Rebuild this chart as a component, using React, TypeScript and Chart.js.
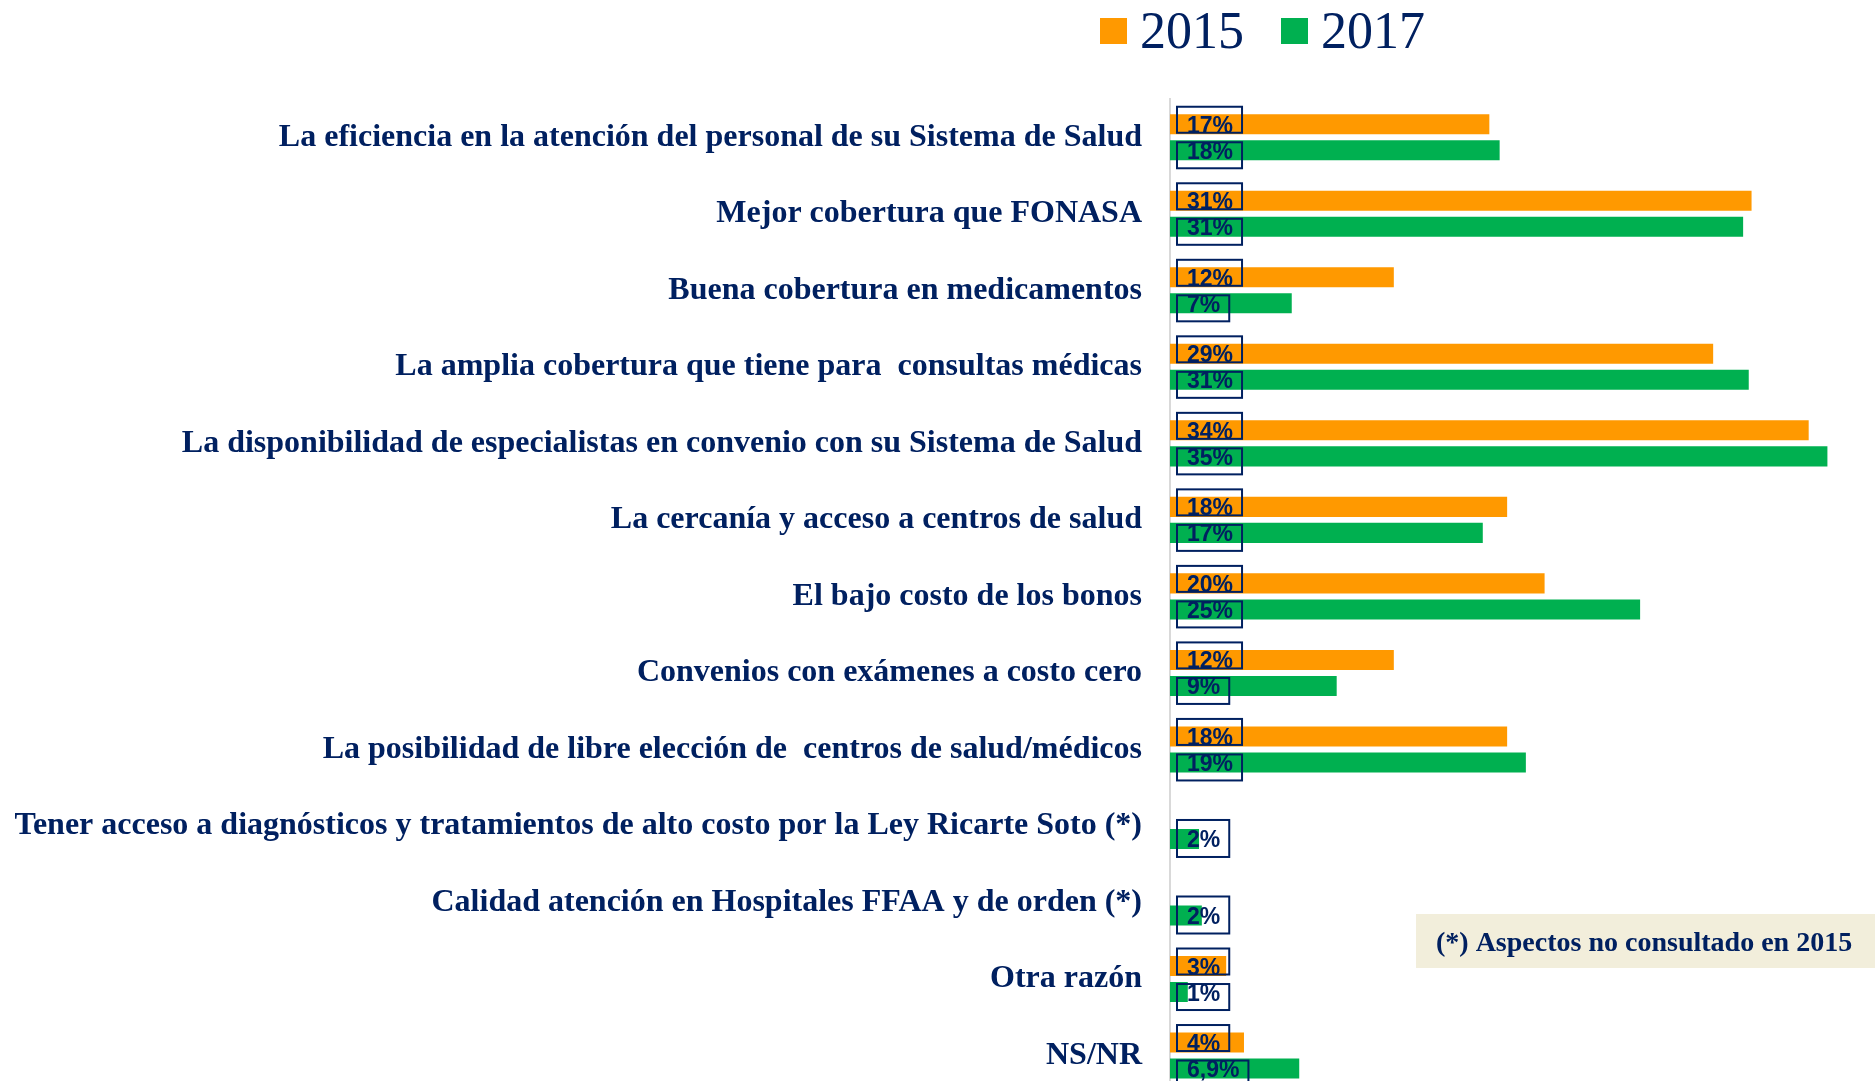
import React, { useEffect, useRef } from 'react';
import { Chart, registerables } from 'chart.js';

Chart.register(...registerables);

const categories = [
  'La eficiencia en la atención del personal de su Sistema de Salud',
  'Mejor cobertura que FONASA',
  'Buena cobertura en medicamentos',
  'La amplia cobertura que tiene para  consultas médicas',
  'La disponibilidad de especialistas en convenio con su Sistema de Salud',
  'La cercanía y acceso a centros de salud',
  'El bajo costo de los bonos',
  'Convenios con exámenes a costo cero',
  'La posibilidad de libre elección de  centros de salud/médicos',
  'Tener acceso a diagnósticos y tratamientos de alto costo por la Ley Ricarte Soto (*)',
  'Calidad atención en Hospitales FFAA y de orden (*)',
  'Otra razón',
  'NS/NR',
];

const seriesNames = ['2015', '2017'];
const values2015: (number | null)[] = [17.05, 31.05, 11.95, 29.0, 34.1, 18.0, 20.0, 11.95, 18.0, null, null, 3.0, 3.95];
const values2017: (number | null)[] = [17.6, 30.6, 6.5, 30.9, 35.1, 16.7, 25.1, 8.9, 19.0, 1.55, 1.7, 0.95, 6.9];
const labels2015 = ['17%', '31%', '12%', '29%', '34%', '18%', '20%', '12%', '18%', '', '', '3%', '4%'];
const labels2017 = ['18%', '31%', '7%', '31%', '35%', '17%', '25%', '9%', '19%', '2%', '2%', '1%', '6,9%'];
const footnote = '(*) Aspectos no consultado en 2015';

const NAVY = '#002060';
const ORANGE = '#FF9900';
const GREEN = '#00B050';
const SERIF = '"Liberation Serif", "Times New Roman", serif';
const SANS = '"Liberation Sans", Arial, sans-serif';

const dataLabelPlugin = {
  id: 'boxedLabels',
  afterDatasetsDraw(chart: any) {
    const ctx = chart.ctx;
    const sets = [labels2015, labels2017];
    ctx.save();
    ctx.font = `bold 23px ${SANS}`;
    chart.data.datasets.forEach((ds: any, di: number) => {
      const meta = chart.getDatasetMeta(di);
      meta.data.forEach((el: any, i: number) => {
        const txt = sets[di][i];
        const v = ds.data[i];
        if (!txt || v == null) return;
        const other = chart.data.datasets[1 - di].data[i];
        const x0 = chart.chartArea.left;
        const y = el.y;
        const tw = ctx.measureText(txt).width;
        let top: number, bottom: number;
        if (other == null) { top = y - 19; bottom = y + 18; }
        else if (di === 0) { top = y - 17.5; bottom = y + 8.5; }
        else { top = y - 8; bottom = y + 18; }
        ctx.fillStyle = NAVY;
        ctx.textBaseline = 'alphabetic';
        ctx.textAlign = 'left';
        ctx.fillText(txt, x0 + 17, y + 8.5);
        ctx.strokeStyle = NAVY;
        ctx.lineWidth = 2;
        ctx.strokeRect(x0 + 7, top, tw + 19, bottom - top);
      });
    });
    ctx.restore();
  },
};

const legendPlugin = {
  id: 'customLegend',
  afterDraw(chart: any) {
    const ctx = chart.ctx;
    ctx.save();
    const starts = [1100, 1281];
    chart.data.datasets.forEach((ds: any, di: number) => {
      const x = starts[di];
      ctx.fillStyle = ds.backgroundColor;
      ctx.fillRect(x, 18, 27, 26);
      ctx.fillStyle = NAVY;
      ctx.font = `52px ${SERIF}`;
      ctx.textBaseline = 'alphabetic';
      ctx.textAlign = 'left';
      ctx.fillText(ds.label, x + 40, 48);
    });
    ctx.fillStyle = '#F2EEDB';
    ctx.fillRect(1416, 914, 459, 54);
    ctx.fillStyle = NAVY;
    ctx.font = `bold 28px ${SERIF}`;
    ctx.fillText(footnote, 1436, 951);
    ctx.restore();
  },
};

const CANVAS_H = 1141;

export default function App() {
  const ref = useRef<HTMLCanvasElement | null>(null);
  useEffect(() => {
    if (!ref.current) return;
    const chart = new Chart(ref.current, {
      type: 'bar',
      data: {
        labels: categories,
        datasets: [
          { label: seriesNames[0], data: values2015, backgroundColor: ORANGE, borderWidth: 0 },
          { label: seriesNames[1], data: values2017, backgroundColor: GREEN, borderWidth: 0 },
        ],
      },
      options: {
        indexAxis: 'y',
        responsive: false,
        animation: false,
        devicePixelRatio: 1,
        layout: { padding: { left: 0, right: 12, top: 99, bottom: 7.5 } },
        datasets: { bar: { categoryPercentage: 0.68, barPercentage: 0.77 } },
        plugins: { legend: { display: false }, tooltip: { enabled: false } },
        scales: {
          x: { display: false, min: 0, max: 37 },
          y: {
            afterFit: (scale: any) => { scale.width = 1170; },
            grid: { display: false, drawTicks: false },
            border: { display: true, color: '#D9D9D9', width: 2 },
            ticks: {
              autoSkip: false,
              padding: 28,
              color: NAVY,
              font: { family: SERIF, size: 32, weight: 'bold' },
            },
          },
        },
      } as any,
      plugins: [dataLabelPlugin, legendPlugin],
    });
    return () => chart.destroy();
  }, []);
  return (
    <div style={{ position: 'fixed', left: 0, top: 0, width: 1875, height: CANVAS_H, background: '#fff' }}>
      <canvas ref={ref} width={1875} height={CANVAS_H} style={{ width: 1875, height: CANVAS_H, display: 'block' }} />
    </div>
  );
}
